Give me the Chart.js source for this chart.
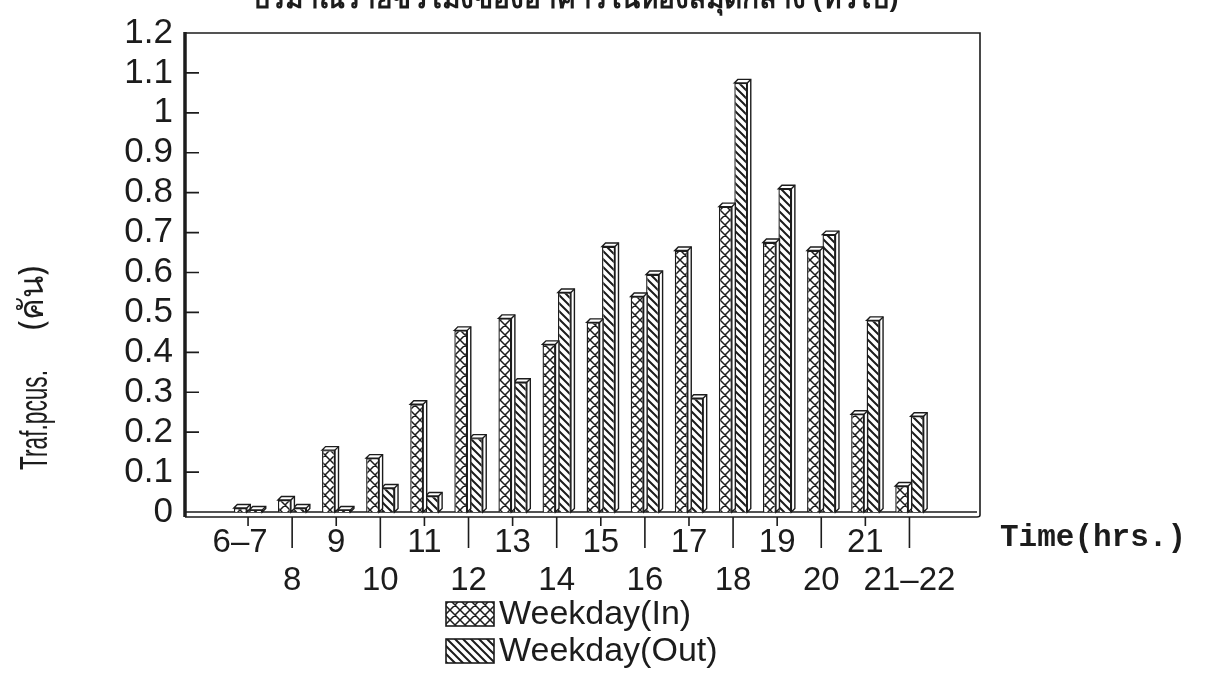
<!DOCTYPE html>
<html>
<head>
<meta charset="utf-8">
<title>Traffic by hour</title>
<script src="https://cdn.jsdelivr.net/npm/chart.js@4.4.1/dist/chart.umd.min.js"></script>
<style>
  html, body { margin: 0; padding: 0; background: #fff; }
</style>
</head>
<body>
<canvas id="chart" width="1220" height="677"></canvas>
<script>
// values
const hourLabels = ["6–7", "8", "9", "10", "11", "12", "13", "14", "15", "16", "17", "18", "19", "20", "21", "21–22"];
const weekdayIn = [0.01, 0.03, 0.155, 0.135, 0.27, 0.455, 0.485, 0.42, 0.475, 0.54, 0.655, 0.765, 0.675, 0.655, 0.245, 0.065];
const weekdayOut = [0.005, 0.01, 0.005, 0.06, 0.04, 0.185, 0.325, 0.55, 0.665, 0.595, 0.285, 1.075, 0.81, 0.695, 0.48, 0.24];
const seriesNames = ["Weekday(In)", "Weekday(Out)"];
const chartTitle = "ปริมาณรายชั่วโมงของอาคารในห้องสมุดกลาง (ทั่วไป)";
const yTitle = ["Traf.pcus.", "(คัน)"];
const xTitle = "Time(hrs.)";

const INK = "#1c1c1c";
const SANS = '"Liberation Sans", Arial, sans-serif';

const canvas = document.getElementById("chart");
const ctx = canvas.getContext("2d");

const makePattern = (kind) => {
	const s = kind === "cross" ? 10 : 8;
	const c = document.createElement("canvas");
	c.width = s;
	c.height = s;
	const g = c.getContext("2d");
	g.fillStyle = "#fff";
	g.fillRect(0, 0, s, s);
	g.strokeStyle = INK;
	g.lineWidth = kind === "cross" ? 1.5 : 2;
	g.beginPath();
	g.moveTo(-1, -1); g.lineTo(s + 1, s + 1);
	g.moveTo(-1, s - 1); g.lineTo(1, s + 1);
	g.moveTo(s - 1, -1); g.lineTo(s + 1, 1);
	if (kind === "cross") {
		g.moveTo(s + 1, -1); g.lineTo(-1, s + 1);
		g.moveTo(-1, 1); g.lineTo(1, -1);
		g.moveTo(s - 1, s + 1); g.lineTo(s + 1, s - 1);
	}
	g.stroke();
	return ctx.createPattern(c, "repeat");
};

const crossFill = makePattern("cross");
const hatchFill = makePattern("hatch");

// text squeezed to a given length (the scan uses a condensed face)
const fitText = (c, text, x, y, len) => {
	const w = c.measureText(text).width;
	c.save();
	c.translate(x, y);
	c.scale(len / w, 1);
	c.fillText(text, 0, 0);
	c.restore();
};

// frame, floor, inner y ticks, bottom ticks and all loose text
const decorations = {
	id: "decorations",
	beforeDatasetsDraw(chart) {
		const { ctx, chartArea: ca, scales } = chart;
		const floor = 5;
		ctx.save();
		ctx.strokeStyle = INK;
		ctx.lineWidth = 1.6;
		ctx.beginPath();
		ctx.moveTo(ca.left, ca.top);
		ctx.lineTo(ca.right, ca.top);
		ctx.lineTo(ca.right, ca.bottom + floor - 2);
		ctx.quadraticCurveTo(ca.right, ca.bottom + floor, ca.right - 3, ca.bottom + floor);
		ctx.lineTo(ca.left, ca.bottom + floor);
		ctx.moveTo(ca.left, ca.bottom);
		ctx.lineTo(ca.right - 3, ca.bottom);
		ctx.stroke();

		ctx.lineWidth = 3.5;
		ctx.beginPath();
		ctx.moveTo(ca.left, ca.top - 1);
		ctx.lineTo(ca.left, ca.bottom + floor);
		ctx.stroke();

		ctx.lineWidth = 1.6;
		ctx.beginPath();
		scales.y.ticks.forEach((t) => {
			if (t.value <= 0 || t.value >= 1.2) return;
			const py = scales.y.getPixelForValue(t.value);
			ctx.moveTo(ca.left, py);
			ctx.lineTo(ca.left + 14, py);
		});
		hourLabels.forEach((_, i) => {
			const px = scales.x.getPixelForValue(i);
			ctx.moveTo(px, ca.bottom + floor);
			ctx.lineTo(px, ca.bottom + (i % 2 ? 36 : 14));
		});
		ctx.stroke();
		ctx.restore();
	},
	afterDatasetsDraw(chart) {
		const { ctx } = chart;
		const dx = 3.5;
		const dy = 3.5;
		ctx.save();
		ctx.strokeStyle = INK;
		ctx.lineWidth = 1.4;
		ctx.fillStyle = "#fff";
		[1, 0].forEach((di) => {
			chart.getDatasetMeta(di).data.forEach((bar) => {
				const l = bar.x - bar.width / 2;
				const r = bar.x + bar.width / 2;
				const top = bar.y;
				const base = bar.base;
				ctx.beginPath();
				ctx.moveTo(l, top);
				ctx.lineTo(l + dx, top - dy);
				ctx.lineTo(r + dx, top - dy);
				ctx.lineTo(r + dx, base - dy);
				ctx.lineTo(r, base);
				ctx.lineTo(r, top);
				ctx.closePath();
				ctx.fill();
				ctx.stroke();
				ctx.beginPath();
				ctx.moveTo(r, top);
				ctx.lineTo(r + dx, top - dy);
				ctx.stroke();
			});
		});
		ctx.restore();
	},
	afterDraw(chart) {
		const { ctx, scales } = chart;
		ctx.save();
		ctx.fillStyle = INK;

		// title, its upper half lies off the page as in the scan
		ctx.font = 'bold 28px "Noto Sans", ' + SANS;
		ctx.textAlign = "center";
		ctx.textBaseline = "alphabetic";
		ctx.fillText(chartTitle, 575, 8);

		// x tick labels, staggered high / low
		ctx.font = "33px " + SANS;
		ctx.textBaseline = "middle";
		hourLabels.forEach((lab, i) => {
			const px = scales.x.getPixelForValue(i);
			ctx.fillText(lab, px - (i === 0 ? 8 : 0), i % 2 ? 581 : 543);
		});

		ctx.font = 'bold 31px "Liberation Mono", "Courier New", monospace';
		ctx.textAlign = "left";
		ctx.fillText(xTitle, 1000, 538);

		// rotated, condensed y title
		ctx.save();
		ctx.translate(47, 470);
		ctx.rotate(-Math.PI / 2);
		ctx.textAlign = "left";
		ctx.textBaseline = "alphabetic";
		ctx.font = '38px "Liberation Sans Narrow", ' + SANS;
		fitText(ctx, yTitle[0], 0, 0, 100);
		ctx.font = '34px "Noto Sans", ' + SANS;
		fitText(ctx, yTitle[1], 140, -4, 64);
		ctx.restore();

		// legend
		const fills = [crossFill, hatchFill];
		const rows = [614, 651];
		ctx.font = "34px " + SANS;
		ctx.textAlign = "left";
		ctx.lineWidth = 1.6;
		ctx.strokeStyle = INK;
		seriesNames.forEach((name, i) => {
			const y = rows[i];
			ctx.fillStyle = fills[i];
			ctx.fillRect(446, y - 12, 48, 24);
			ctx.strokeRect(446, y - 12, 48, 24);
			ctx.fillStyle = INK;
			ctx.fillText(name, 499, y + 1);
		});
		ctx.restore();
	},
};

new Chart(ctx, {
	type: "bar",
	data: {
		datasets: [
			{
				label: seriesNames[0],
				data: weekdayIn.map((v, i) => ({ x: i, y: v })),
				backgroundColor: crossFill,
				borderColor: INK,
				borderWidth: 1.4,
			},
			{
				label: seriesNames[1],
				data: weekdayOut.map((v, i) => ({ x: i, y: v })),
				backgroundColor: hatchFill,
				borderColor: INK,
				borderWidth: 1.4,
			},
		],
	},
	options: {
		responsive: false,
		animation: false,
		events: [],
		categoryPercentage: 0.7,
		barPercentage: 0.84,
		layout: {
			autoPadding: false,
			padding: { top: 15, right: 240, bottom: 165, left: 0 },
		},
		plugins: {
			legend: { display: false },
			tooltip: { enabled: false },
			title: { display: false },
		},
		scales: {
			x: {
				type: "linear",
				display: false,
				offset: false,
				min: -1.43,
				max: 16.6,
			},
			y: {
				min: 0,
				max: 1.2,
				afterFit: (scale) => {
					scale.width = 185;
				},
				grid: { display: false, drawTicks: false },
				border: { display: false },
				ticks: {
					stepSize: 0.1,
					autoSkip: false,
					padding: 12,
					color: INK,
					font: { family: SANS, size: 35 },
					callback: (v) => String(+v.toFixed(1)),
				},
			},
		},
	},
	plugins: [decorations],
});
</script>
</body>
</html>
